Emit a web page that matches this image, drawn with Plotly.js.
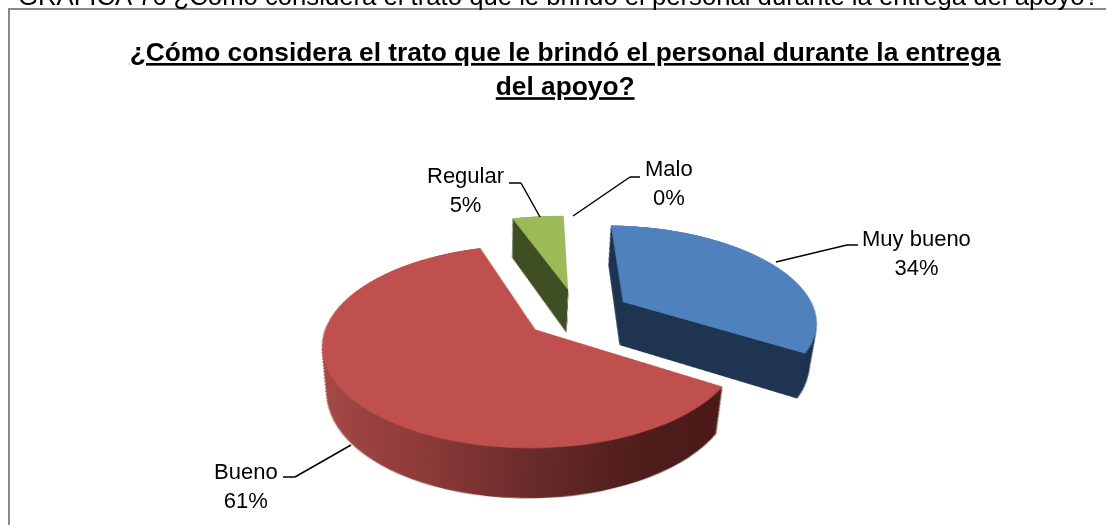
<!DOCTYPE html>
<html><head><meta charset="utf-8">
<script src="https://cdn.plot.ly/plotly-3.0.1.min.js"></script>
<style>html,body{margin:0;padding:0;background:#fff;overflow:hidden}
#chart{position:absolute;left:0;top:0;width:1106px;height:525px}
#frame{position:absolute;left:8px;top:8px;width:1200px;height:600px;border:2px solid #8a8a8a;box-sizing:border-box;pointer-events:none}
</style></head><body>
<div id="frame"></div>
<div id="chart"></div>
<script>
var categories = ['Muy bueno','Bueno','Regular','Malo'];
var percents = [34,61,5,0];
var sliceColors = ['#4F81BD','#C0504D','#9BBB59','#F79646'];
var sideColors = ['#1F3552','#7E2F2E','#404F24','#7F4A20'];
var chartTitle = '¿Cómo considera el trato que le brindó el personal durante la entrega<br>del apoyo?';
var headerText = 'GRÁFICA 76 ¿Cómo considera el trato que le brindó el personal durante la entrega del apoyo?';
var pull = 0.27, W=1106, H=525, domTop=5, domSize=420, cxPx=553, wallPx=44, wallStep=1, wallShrink=0.025;

function solve(A,b){var n=b.length;for(var i=0;i<n;i++){var m=i;for(var r=i+1;r<n;r++)if(Math.abs(A[r][i])>Math.abs(A[m][i]))m=r;
  var t=A[i];A[i]=A[m];A[m]=t;t=b[i];b[i]=b[m];b[m]=t;
  for(r=i+1;r<n;r++){var f=A[r][i]/A[i][i];for(var c=i;c<n;c++)A[r][c]-=f*A[i][c];b[r]-=f*b[i];}}
  var x=new Array(n);for(i=n-1;i>=0;i--){var s=b[i];for(c=i+1;c<n;c++)s-=A[i][c]*x[c];x[i]=s/A[i][i];}return x;}

// Pie geometry as Plotly lays it out before the tilt
var R=domSize/2/(1+pull), cx=cxPx, cy=domTop+domSize/2;
var tot=percents.reduce(function(a,b){return a+b;},0), ang=[], acc=0;
percents.forEach(function(v){ang.push([acc/tot*2*Math.PI,(acc+v)/tot*2*Math.PI]);acc+=v;});
function dir(a){return [Math.sin(a),Math.cos(a)];}
function apex(i){var m=dir((ang[i][0]+ang[i][1])/2);return [pull*m[0],pull*m[1]];}
// Landmarks of the tilted pie: slice, rim (a=apex, 0=start edge, 1=end edge, or degrees), screen x, y
var marks=[[1,'a',531,330],[1,0,722,385],[1,1,483,247],[0,'a',616,303],[0,0,611,224],[0,1,805,354],[2,'a',566,292],[2,0,514,218],[2,1,566,216],
           [1,{deg:270},322,330],[1,{deg:180},545,447],[0,{deg:90},813,303]];
var ata=[],atb=[];for(var i=0;i<8;i++){ata.push([0,0,0,0,0,0,0,0]);atb.push(0);}
marks.forEach(function(k){var a=apex(k[0]),p=a;
  if(k[1]!=='a'){var e=dir(k[1].deg!==undefined?k[1].deg*Math.PI/180:ang[k[0]][k[1]]);p=[a[0]+e[0],a[1]+e[1]];}
  var x=cx+R*p[0],y=cy-R*p[1],X=k[2],Y=k[3];
  [[x,y,1,0,0,0,-x*X,-y*X,X],[0,0,0,x,y,1,-x*Y,-y*Y,Y]].forEach(function(r){
    for(var a2=0;a2<8;a2++){for(var b=0;b<8;b++)ata[a2][b]+=r[a2]*r[b];atb[a2]+=r[a2]*r[8];}});});
var h=solve(ata,atb);
function fwd(x,y){var w=h[6]*x+h[7]*y+1;return [(h[0]*x+h[1]*y+h[2])/w,(h[3]*x+h[4]*y+h[5])/w];}
function inv(X,Y){return solve([[h[0]-h[6]*X,h[1]-h[7]*X],[h[3]-h[6]*Y,h[4]-h[7]*Y]],[X-h[2],Y-h[5]]);}
function sx(x,y,X){return (h[0]-h[6]*X)/(h[6]*x+h[7]*y+1);}

function pieTrace(centerX,centerY,size,colors,name){
  return {type:'pie',values:percents,labels:categories,sort:false,direction:'clockwise',rotation:0,
    pull:pull,textinfo:'none',hoverinfo:'skip',showlegend:false,name:name,
    marker:{colors:colors,line:{width:0}},
    domain:{x:[(centerX-size/2)/W,(centerX+size/2)/W],y:[1-(centerY+size/2)/H,1-(centerY-size/2)/H]}};
}
var traces=[], S0=fwd(cx,cy), s0=sx(cx,cy,S0[0]);
for(var d=wallPx;d>0;d-=wallStep){
  var P=inv(S0[0]-2*d/wallPx,S0[1]+d);
  traces.push(pieTrace(P[0],P[1],domSize*(s0/sx(P[0],P[1],S0[0]))*(1-wallShrink*d/wallPx),sideColors,'side'));
}
traces.push(pieTrace(cx,cy,domSize,sliceColors,'Trato'));

function label(t,x,y){return {text:t,x:x/W,y:1-y/H,xref:'paper',yref:'paper',showarrow:false,xanchor:'center',yanchor:'middle',align:'center',font:{family:'Liberation Sans',size:22,color:'#000'}};}
function seg(x0,y0,x1,y1){return {text:' ',font:{size:1},borderpad:0,borderwidth:0,x:x1/W,y:1-y1/H,xref:'paper',yref:'paper',axref:'pixel',ayref:'pixel',ax:x0-x1,ay:y0-y1,showarrow:true,arrowhead:0,arrowwidth:1.5,arrowcolor:'#000',standoff:0,startstandoff:0};}
var annotations=[
 label('Muy bueno<br>34%',916,253),label('Bueno<br>61%',246,486),label('Regular<br>5%',465,190),label('Malo<br>0%',669,183),
 seg(858,245,847,245),seg(847,245,776,262),
 seg(509,183,521,183),seg(521,183,540,217),
 seg(640,177,630,177),seg(630,177,573,216),
 seg(283,477,295,477),seg(295,477,351,445),
 {text:headerText,x:16/W,y:1+4/H,xref:'paper',yref:'paper',xanchor:'left',yanchor:'middle',showarrow:false,font:{family:'Liberation Sans',size:25.7,color:'#000'}}
];
var layout={width:W,height:H,margin:{l:0,r:0,t:0,b:0,pad:0},paper_bgcolor:'rgba(0,0,0,0)',plot_bgcolor:'rgba(0,0,0,0)',showlegend:false,
  title:{text:'<b><u>'+chartTitle.replace('<br>','</u></b><br><b><u>')+'</u></b>',x:0.511,xanchor:'center',y:1-61/H,yanchor:'middle',font:{family:'Liberation Sans',size:26.3,color:'#000'}},
  annotations:annotations};

Plotly.newPlot('chart',traces,layout,{displayModeBar:false,staticPlot:true}).then(function(gd){
  var svg=gd.querySelector('.main-svg');
  svg.style.transformOrigin='0 0';
  svg.style.transform='matrix3d('+[h[0],h[3],0,h[6],h[1],h[4],0,h[7],0,0,1,0,h[2],h[5],0,1].join(',')+')';
  var ns='http://www.w3.org/2000/svg',defs=document.createElementNS(ns,'defs'),g=document.createElementNS(ns,'linearGradient');
  g.setAttribute('id','redWall');
  [['0','#A64A47'],['0.3','#8C3A38'],['0.55','#672A2A'],['0.8','#4E1C1B'],['1','#4A1A18']].forEach(function(s){var st=document.createElementNS(ns,'stop');st.setAttribute('offset',s[0]);st.setAttribute('stop-color',s[1]);g.appendChild(st);});
  defs.appendChild(g);svg.appendChild(defs);
  var ts=svg.querySelectorAll('.pielayer .trace');
  for(var t=0;t<ts.length-1;t++){var sl=ts[t].querySelectorAll('.slice path.surface');if(sl[1])sl[1].style.setProperty('fill','url(#redWall)');}
});
</script></body></html>
